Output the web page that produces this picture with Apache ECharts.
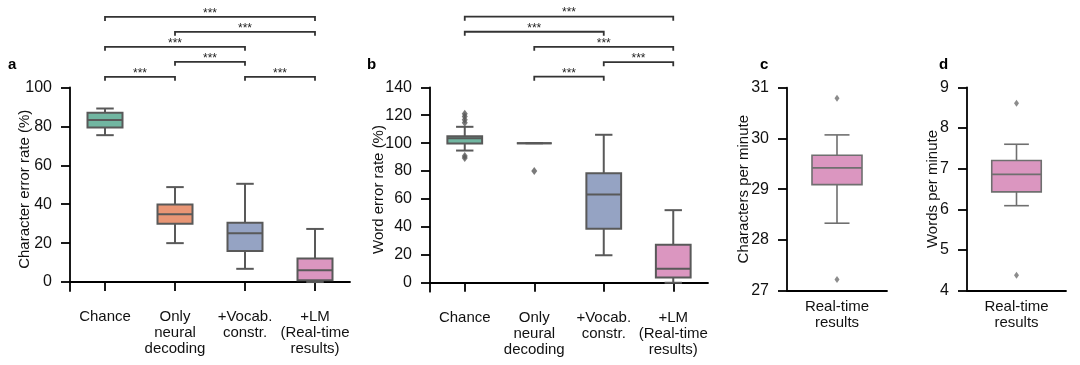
<!DOCTYPE html>
<html>
<head>
<meta charset="utf-8">
<script src="https://cdn.jsdelivr.net/npm/echarts@6/dist/echarts.min.js"></script>
<style>html,body{margin:0;padding:0;background:#fff;}#c{width:1080px;height:365px;}</style>
</head>
<body>
<div id="c"></div>
<script>
// ---------- data ----------
const categoriesAB = ['Chance', 'Only\nneural\ndecoding', '+Vocab.\nconstr.', '+LM\n(Real-time\nresults)'];
const categoriesCD = ['Real-time\nresults'];
// [categoryIndex, lowWhisker, Q1, median, Q3, highWhisker]
const boxesA = [[0, 75.5, 79.5, 83.3, 87.0, 89.2], [1, 20.0, 30.0, 34.8, 39.9, 48.8], [2, 6.8, 16.0, 25.1, 30.5, 50.5], [3, 0.0, 0.9, 6.1, 12.1, 27.3]];
const boxesB = [[0, 94.7, 99.8, 103.5, 105.0, 111.7], [1, 100, 100, 100, 100, 100], [2, 19.7, 38.6, 63.3, 78.4, 106.0], [3, 0.0, 3.8, 10.1, 27.3, 52.0]];
const boxesC = [[0, 28.33, 29.09, 29.42, 29.67, 30.07]];
const boxesD = [[0, 6.09, 6.43, 6.86, 7.20, 7.60]];
const outliersA = [];
const outliersB = [[0, 121], [0, 119], [0, 116.8], [0, 114.6], [0, 90.8], [0, 89.3], [1, 80]];
const outliersC = [[0, 30.79], [0, 27.22]];
const outliersD = [[0, 8.61], [0, 4.38]];
// significance brackets: [fromCategory, toCategory, height]
const bracketsA = [[0, 1, 105.5], [2, 3, 105.5], [1, 2, 113.2], [0, 2, 120.9], [1, 3, 128.6], [0, 3, 136.3]];
const bracketsB = [[1, 2, 147.6], [2, 3, 158.0], [1, 3, 169.0], [0, 2, 179.8], [0, 3, 190.6]];
const ticksA = [0, 20, 40, 60, 80, 100];
const ticksB = [0, 20, 40, 60, 80, 100, 120, 140];
const colorsAB = ['#71b6a1', '#e99675', '#95a3c3', '#db96c0'];
const colorsCD = ['#db96c0'];

// ---------- rendering ----------
const FONT = 'Liberation Sans, Arial, Helvetica, sans-serif';

function boxRenderer(colors, gray, lw) {
  return function (params, api) {
    const x = api.value(0);
    const lo = api.coord([x, api.value(1)]);
    const q1 = api.coord([x, api.value(2)]);
    const md = api.coord([x, api.value(3)]);
    const q3 = api.coord([x, api.value(4)]);
    const hi = api.coord([x, api.value(5)]);
    const band = api.size([1, 0])[0];
    const bw = band * 0.5;
    const cw = bw * 0.5;
    const cx = md[0];
    const st = { stroke: gray, lineWidth: lw, fill: null };
    return {
      type: 'group',
      children: [
        { type: 'line', shape: { x1: cx, y1: lo[1], x2: cx, y2: q1[1] }, style: st },
        { type: 'line', shape: { x1: cx, y1: q3[1], x2: cx, y2: hi[1] }, style: st },
        { type: 'line', shape: { x1: cx - cw / 2, y1: lo[1], x2: cx + cw / 2, y2: lo[1] }, style: st },
        { type: 'line', shape: { x1: cx - cw / 2, y1: hi[1], x2: cx + cw / 2, y2: hi[1] }, style: st },
        { type: 'rect', shape: { x: cx - bw / 2, y: q3[1], width: bw, height: q1[1] - q3[1] },
          style: { fill: colors[params.dataIndex], stroke: gray, lineWidth: lw } },
        { type: 'line', shape: { x1: cx - bw / 2, y1: md[1], x2: cx + bw / 2, y2: md[1] }, style: st }
      ]
    };
  };
}

function bracketRenderer(params, api) {
  const y = api.value(2);
  const p1 = api.coord([api.value(0), y]);
  const p2 = api.coord([api.value(1), y]);
  const t = 4;
  return {
    type: 'group',
    children: [
      { type: 'polyline', shape: { points: [[p1[0], p1[1] + t], [p1[0], p1[1]], [p2[0], p2[1]], [p2[0], p2[1] + t]] },
        style: { stroke: '#333', lineWidth: 1.8, fill: null } },
      { type: 'text', x: (p1[0] + p2[0]) / 2, y: p1[1] + 2.5,
        style: { text: '***', fill: '#222', font: '12px ' + FONT, align: 'center', verticalAlign: 'bottom' } }
    ]
  };
}

function makeX(idx, cats, showTick, margin) {
  return {
    type: 'category', gridIndex: idx, data: cats,
    axisLine: { show: true, lineStyle: { color: '#000', width: 1.8 } },
    axisTick: { show: showTick, alignWithLabel: true, length: 9, lineStyle: { color: '#000', width: 1.8 } },
    axisLabel: { color: '#111', fontSize: 15, lineHeight: 16, fontFamily: FONT, margin: margin, interval: 0 },
    splitLine: { show: false }
  };
}
function makeY(idx, name, min, max, nameGap, ticks, interval) {
  const y = {
    type: 'value', gridIndex: idx, min: min, max: max, name: name,
    nameLocation: 'middle', nameGap: nameGap, nameMoveOverlap: false,
    nameTextStyle: { color: '#111', fontSize: 15, fontFamily: FONT },
    axisLine: { show: true, lineStyle: { color: '#000', width: 1.8 } },
    axisTick: { show: true, length: 9, lineStyle: { color: '#000', width: 1.8 } },
    axisLabel: { color: '#111', fontSize: 16, fontFamily: FONT, margin: 18 },
    splitLine: { show: false }
  };
  if (ticks) {
    y.axisTick.customValues = ticks;
    y.axisLabel.customValues = ticks;
  } else {
    y.interval = interval;
  }
  return y;
}

const grayAB = '#595959';
const grayCD = '#6f6f6f';

const option = {
  animation: false,
  backgroundColor: '#fff',
  title: [
    { text: 'a', left: 3, top: 52, textStyle: { fontSize: 15, fontWeight: 'bold', fontFamily: FONT, color: '#000' } },
    { text: 'b', left: 362, top: 52, textStyle: { fontSize: 15, fontWeight: 'bold', fontFamily: FONT, color: '#000' } },
    { text: 'c', left: 755, top: 52, textStyle: { fontSize: 15, fontWeight: 'bold', fontFamily: FONT, color: '#000' } },
    { text: 'd', left: 934, top: 52, textStyle: { fontSize: 15, fontWeight: 'bold', fontFamily: FONT, color: '#000' } }
  ],
  grid: [
    { left: 70, width: 280, top: 87.5, height: 203.5 },
    { left: 430, width: 278, top: 87.3, height: 204.4 },
    { left: 787, width: 100, top: 87.7, height: 203 },
    { left: 967, width: 99, top: 87.3, height: 203.4 }
  ],
  xAxis: [
    makeX(0, categoriesAB, true, 18),
    makeX(1, categoriesAB, true, 18),
    makeX(2, categoriesCD, false, 8),
    makeX(3, categoriesCD, false, 8)
  ],
  yAxis: [
    makeY(0, 'Character error rate (%)', -4.6, 100, 37.5, ticksA),
    makeY(1, 'Word error rate (%)', -6.4, 140, 43.5, ticksB),
    makeY(2, 'Characters per minute', 27, 31, 35.5, null, 1),
    makeY(3, 'Words per minute', 4, 9, 27, null, 1)
  ],
  series: [
    { type: 'custom', xAxisIndex: 0, yAxisIndex: 0, data: boxesA, renderItem: boxRenderer(colorsAB, grayAB, 2), encode: { x: 0, y: [1, 2, 3, 4, 5] }, clip: false, z: 2 },
    { type: 'custom', xAxisIndex: 1, yAxisIndex: 1, data: boxesB, renderItem: boxRenderer(colorsAB, grayAB, 2), encode: { x: 0, y: [1, 2, 3, 4, 5] }, clip: false, z: 2 },
    { type: 'custom', xAxisIndex: 2, yAxisIndex: 2, data: boxesC, renderItem: boxRenderer(colorsCD, grayCD, 1.6), encode: { x: 0, y: [1, 2, 3, 4, 5] }, clip: false, z: 2 },
    { type: 'custom', xAxisIndex: 3, yAxisIndex: 3, data: boxesD, renderItem: boxRenderer(colorsCD, grayCD, 1.6), encode: { x: 0, y: [1, 2, 3, 4, 5] }, clip: false, z: 2 },
    { type: 'scatter', xAxisIndex: 0, yAxisIndex: 0, data: outliersA, symbol: 'diamond', symbolSize: [6, 8], itemStyle: { color: grayAB }, z: 3 },
    { type: 'scatter', xAxisIndex: 1, yAxisIndex: 1, data: outliersB, symbol: 'diamond', symbolSize: [6, 8], itemStyle: { color: grayAB }, z: 3 },
    { type: 'scatter', xAxisIndex: 2, yAxisIndex: 2, data: outliersC, symbol: 'diamond', symbolSize: [5, 7], itemStyle: { color: grayCD }, z: 3 },
    { type: 'scatter', xAxisIndex: 3, yAxisIndex: 3, data: outliersD, symbol: 'diamond', symbolSize: [5, 7], itemStyle: { color: grayCD }, z: 3 },
    { type: 'custom', xAxisIndex: 0, yAxisIndex: 0, data: bracketsA, renderItem: bracketRenderer, encode: { x: [0, 1], y: 2 }, clip: false, silent: true },
    { type: 'custom', xAxisIndex: 1, yAxisIndex: 1, data: bracketsB, renderItem: bracketRenderer, encode: { x: [0, 1], y: 2 }, clip: false, silent: true }
  ]
};

const chart = echarts.init(document.getElementById('c'), null, { renderer: 'canvas' });
chart.setOption(option);
</script>
</body>
</html>
